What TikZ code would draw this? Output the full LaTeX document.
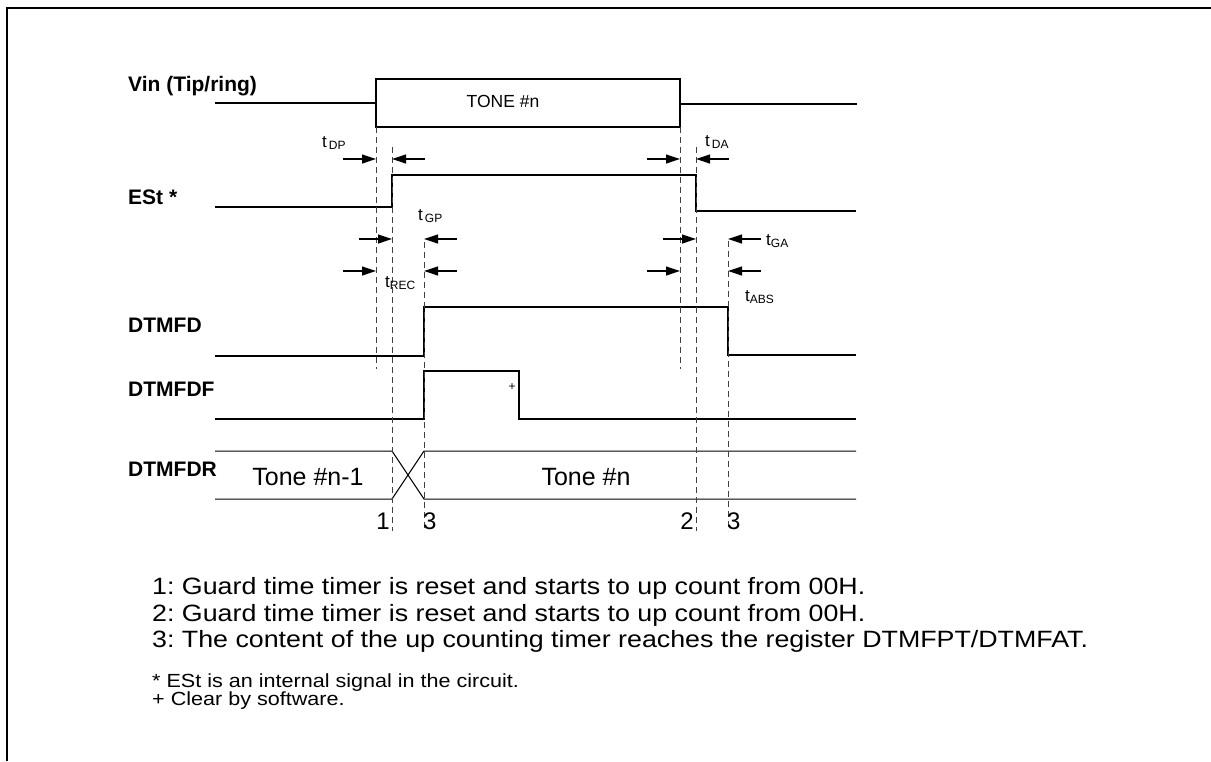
\documentclass[tikz,border=0pt]{standalone}
\usepackage{fontspec}
\setmainfont{Liberation Sans}
\newfontfamily\notefont[FakeStretch=1.135]{Liberation Sans}
\usetikzlibrary{arrows.meta}
\frenchspacing
\newcommand{\fsz}[1]{\fontsize{#1pt}{#1pt}\selectfont}
% guide line at an edge: x, top y, bottom y
\newcommand{\guide}[3]{\draw[guideline] (#1,#2) -- (#1,#3);}
% pair of timing arrows pointing at two edges: y, left edge, right edge
\newcommand{\timpair}[3]{%
  \draw[timarrow] (#2-33,#1) -- (#2,#1);
  \draw[timarrow] (#3+33,#1) -- (#3,#1);}
% time label: name, x, baseline y, subscript
\newcommand{\tlabel}[4]{%
  \node[anchor=base west, inner sep=0pt, font=\fsz{17}] (#1) at (#2,#3)
    {t\raisebox{-2.5pt}{\fsz{12}#4}};}

\begin{document}
\begin{tikzpicture}[x=1pt, y=-1pt,
  sig/.style={line width=1.2pt, line join=miter},
  guideline/.style={line width=0.9pt, black!75, dash pattern=on 6pt off 4pt},
  timarrow/.style={line width=1.2pt, -{Triangle[length=14pt,width=9pt]}},
  siglabel/.style={anchor=base west, inner sep=0pt, font=\bfseries\fsz{21}},
  note/.style={anchor=base west, inner sep=0pt, font=\notefont\fsz{23.6}},
  fnote/.style={anchor=base west, inner sep=0pt, font=\notefont\fsz{19}}]
  \useasboundingbox (0,0) rectangle (1211,761);
  % frame
  \draw[line width=2.6pt] (7,761) -- (7,8) -- (1212,8);

  % signal names
  \node[siglabel] (vin)    at (128,91)  {Vin (Tip/ring)};
  \node[siglabel] (est)    at (128,204) {ESt *};
  \node[siglabel] (dtmfd)  at (128,332) {DTMFD};
  \node[siglabel] (dtmfdf) at (128,396) {DTMFDF};
  \node[siglabel] (dtmfdr) at (128,476) {DTMFDR};

  % Vin
  \draw[sig] (215,103) -- (376,103);
  \draw[sig] (376,79) rectangle (680,127);
  \draw[sig] (680,104) -- (857,104);
  \node[anchor=base, inner sep=0pt, font=\fsz{17.5}] (tone) at (503,107) {TONE \#n};

  % ESt
  \draw[sig] (215,207) -- (392,207) -- (392,175) -- (696,175) -- (696,211) -- (856,211);

  % DTMFD
  \draw[sig] (215,356) -- (424,356) -- (424,307) -- (728,307) -- (728,355) -- (856,355);

  % DTMFDF
  \draw[sig] (215,419) -- (424,419) -- (424,371) -- (519,371) -- (519,419) -- (856,419);
  \node[inner sep=0pt, font=\fsz{12}] (clr) at (512,387) {+};

  % DTMFDR
  \draw[sig, line width=1pt] (215,451) -- (392,451) -- (424,499) -- (856,499);
  \draw[sig, line width=1pt] (215,499) -- (392,499) -- (424,451) -- (856,451);
  \node[anchor=base, inner sep=0pt, font=\fsz{25}] (prev) at (308,485) {Tone \#n-1};
  \node[anchor=base, inner sep=0pt, font=\fsz{25}] (cur)  at (586,485) {Tone \#n};

  % guide lines
  \guide{376}{127}{369}
  \guide{392}{147}{531}
  \guide{424}{242}{530}
  \guide{680}{127}{369}
  \guide{696}{147}{531}
  \guide{728}{241}{531}

  % timing arrows
  \timpair{159}{376}{392}
  \timpair{159}{680}{696}
  \timpair{239}{392}{424}
  \timpair{271}{376}{424}
  \timpair{239}{696}{728}
  \timpair{271}{680}{728}
  \tlabel{tdp}{322}{147}{\,DP}
  \tlabel{tda}{705}{146}{\,DA}
  \tlabel{tgp}{418}{220}{\,GP}
  \tlabel{trec}{385}{287}{REC}
  \tlabel{tga}{766}{245}{GA}
  \tlabel{tabs}{745}{301}{ABS}

  % edge numbers
  \node[anchor=base east, inner sep=0pt, font=\fsz{24}] (n1) at (390,529) {1};
  \node[anchor=base west, inner sep=0pt, font=\fsz{24}] (n3a) at (423,529) {3};
  \node[anchor=base east, inner sep=0pt, font=\fsz{24}] (n2) at (694,529) {2};
  \node[anchor=base west, inner sep=0pt, font=\fsz{24}] (n3b) at (727,529) {3};

  % notes
  \node[note] (note1) at (152,594) {1: Guard time timer is reset and starts to up count from 00H.};
  \node[note] (note2) at (152,621) {2: Guard time timer is reset and starts to up count from 00H.};
  \node[note] (note3) at (152,647) {3: The content of the up counting timer reaches the register DTMFPT/DTMFAT.};
  \node[fnote] (fn1) at (152,687) {* ESt is an internal signal in the circuit.};
  \node[fnote] (fn2) at (152,705) {+ Clear by software.};
\end{tikzpicture}
\end{document}
